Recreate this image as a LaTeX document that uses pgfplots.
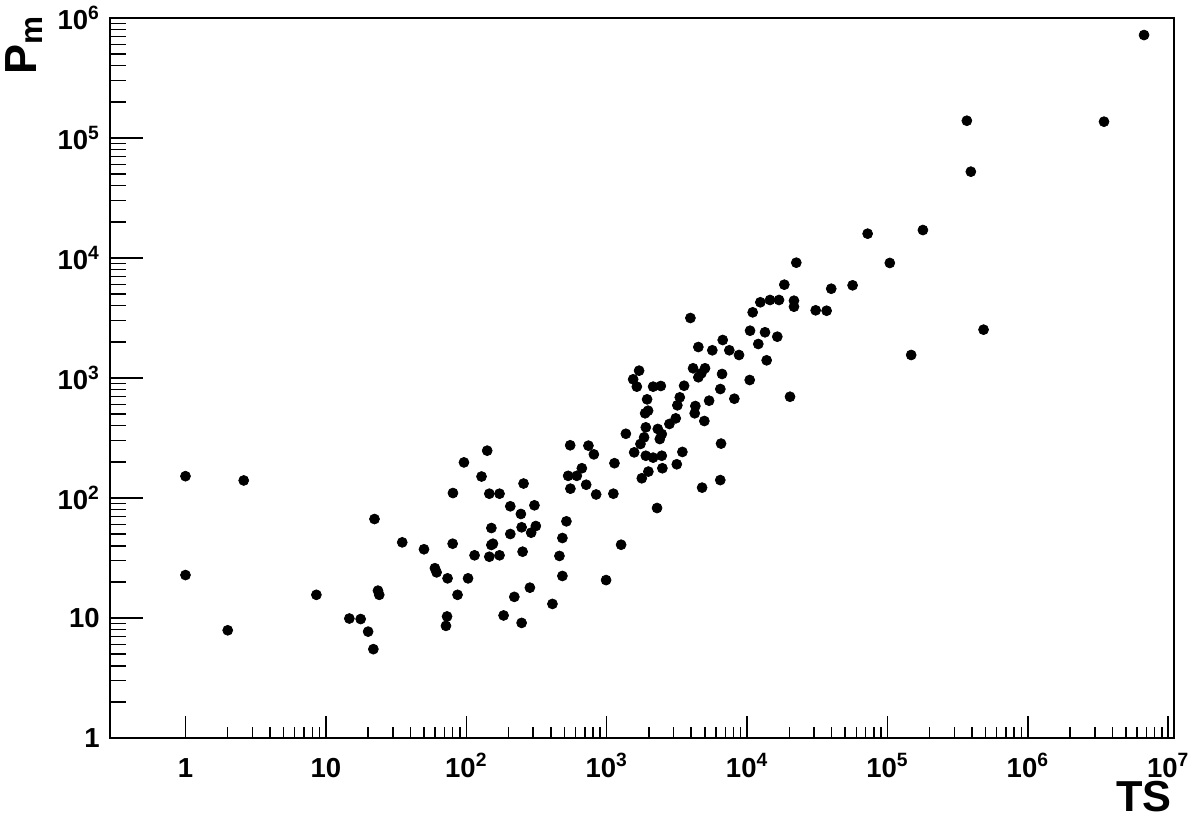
\documentclass[border=0pt]{standalone}
\usepackage{fontspec}
\setmainfont{Liberation Sans}
\usepackage{pgfplots}
\pgfplotsset{compat=1.18}
\usepackage{pgfplotstable}
\pgfplotstableread{
ts pm
1.0 152
2.6 140
1.0 22.8
2.0 7.9
22.2 66.8
35 42.7
50 37.4
59.8 26
61.5 24
73.6 21.4
8.56 15.6
23.5 16.9
24 15.6
14.7 9.9
17.7 9.8
20 7.7
21.8 5.5
73 10.3
71.7 8.6
80.4 110
80 41.6
103 21.4
86.7 15.6
96.3 198
141 248
128.5 151
146 108.6
172.6 108.6
256 132
206 85.3
306 86.9
245 73.6
151 56.2
248 57
313 58.4
290 51.4
206 50.1
151 40.6
155 41.6
146 32.4
172.6 33.3
114.6 33.3
252 35.7
220 15
284 17.9
184.5 10.5
248 9.1
411 13.1
484 22.4
461 32.9
484 46.4
517 63.9
1268 40.8
991 20.7
550 275
742 273
811 231
1137 195
666 177
532 153
613 153
552 119.6
715 129
842 107
1117 108.6
1371 343
18440 5995
12440 4275
14580 4467
16900 4467
21600 4407
21600 3928
10970 3525
3951 3162
10510 2478
13430 2404
16430 2209
12030 1920
13800 1404
10450 962
20240 698
6714 2073
4500 1812
5660 1702
7480 1702
8770 1555
4128 1205
5020 1205
4500 1014
4730 1094
6640 1080
1703 1151
1545 975
1641 847
2143 847
2432 858
3563 862
6456 809
8124 672
5370 647
3319 690
3190 592
4285 584
4240 508
1942 664
1974 534
1880 508
3107 461
2800 414
4966 438
1901 388
2314 376
2471 341
2392 310
1849 320
1741 282
1571 240
1901 225
2143 217
2471 225
3464 242
3160 191
2495 177
1983 166
1780 146
6530 284
6450 141
4786 122
2286 82.5
72300 15950
179000 17100
22440 9140
104000 9090
39800 5546
56500 5920
30830 3665
36900 3636
147700 1555
6730000 721000
368000 139300
3490000 136800
393000 52400
484000 2528
}\datatable
\begin{document}
\begin{tikzpicture}
\begin{axis}[
  scale only axis,
  width=638.4pt, height=432pt,
  xmode=log, ymode=log,
  xmin=0.29, xmax=1.1e7, ymin=1, ymax=1e6,
  axis line style={line width=1pt},
  tick align=inside,
  xtick pos=bottom, ytick pos=left,
  every tick/.style={black, line width=0.9pt},
  xtick style={/pgfplots/major tick length=13.2pt, /pgfplots/minor tick length=6.6pt},
  ytick style={/pgfplots/major tick length=19.8pt, /pgfplots/minor tick length=9.9pt},
  xtick={1,10,100,1000,10000,100000,1000000,10000000},
  xticklabels={1,10,10\textsuperscript{2},10\textsuperscript{3},10\textsuperscript{4},10\textsuperscript{5},10\textsuperscript{6},10\textsuperscript{7}},
  ytick={1,10,100,1000,10000,100000,1000000},
  yticklabels={1,10,10\textsuperscript{2},10\textsuperscript{3},10\textsuperscript{4},10\textsuperscript{5},10\textsuperscript{6}},
  ticklabel style={font=\bfseries\fontsize{16.5}{19}\selectfont, inner sep=0pt},
  xticklabel style={anchor=base, yshift=-23.6pt},
  yticklabel style={anchor=east, xshift=-6pt},
  xlabel={TS},
  xlabel style={at={(axis description cs:0.998,-0.0595)}, anchor=north east, inner sep=0pt, font=\bfseries\fontsize{26}{29}\selectfont},
  ylabel={P\textsubscript{m}},
  ylabel style={at={(axis description cs:-0.0695,1.004)}, anchor=base east, inner sep=0pt, font=\bfseries\fontsize{27}{30}\selectfont},
]
\addplot[only marks, mark=*, mark size=3pt, black] table[x=ts, y=pm] {\datatable};
\end{axis}
\pgfresetboundingbox
\path[use as bounding box] ([xshift=-66pt,yshift=-46.8pt]current axis.south west) rectangle ([xshift=15.6pt,yshift=10.8pt]current axis.north east);
\end{tikzpicture}
\end{document}
